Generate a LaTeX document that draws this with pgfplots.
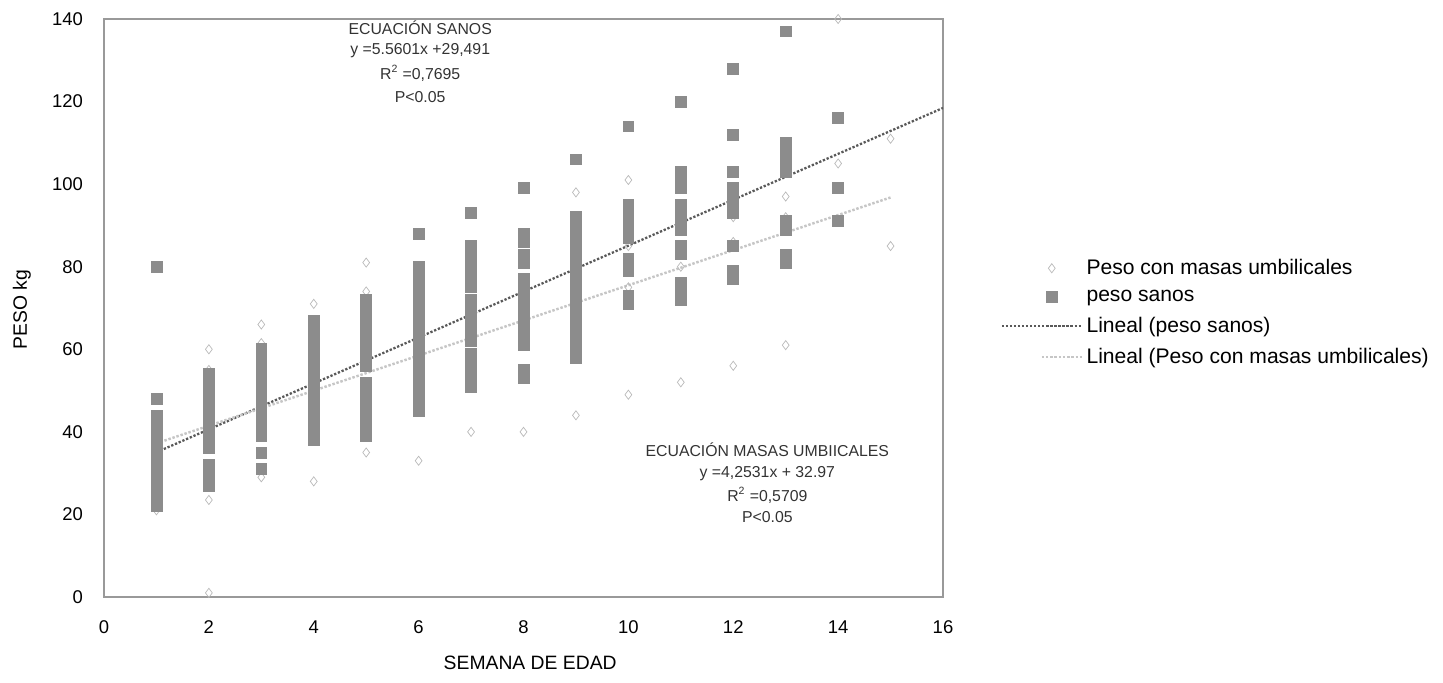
\documentclass[border=0pt]{standalone}
\usepackage{fontspec}
\setmainfont{Liberation Sans}
\usepackage{pgfplots}
\pgfplotsset{compat=1.18}
\pgfplotsset{
  markleg/.style={legend image code/.code={\draw[##1] plot coordinates {(1.0cm,0cm)};}},
  longleg/.style={legend image code/.code={\draw[##1] (0cm,0cm) -- (1.6cm,0cm);}},
  shortleg/.style={legend image code/.code={\draw[##1] (0.8cm,0cm) -- (1.6cm,0cm);}},
}

\begin{document}
\begin{tikzpicture}
\path[use as bounding box] (-20.8mm,-17.2mm) rectangle (267.8mm,119.4mm);
\begin{axis}[
  at={(0,0)}, anchor=south west,
  scale only axis, width=167.8mm, height=115.6mm,
  xmin=0, xmax=16, ymin=0, ymax=140,
  xtick={0,2,...,16}, ytick={0,20,...,140},
  major tick length=0pt,
  axis line style={gray!80, line width=0.6pt},
  /pgf/number format/assume math mode=true,
  tick label style={font=\fontsize{10.5}{12}\selectfont},
  xticklabel style={yshift=-3.5mm},
  yticklabel style={xshift=-3mm},
  xlabel={SEMANA DE EDAD}, ylabel={PESO kg},
  label style={font=\fontsize{11}{13}\selectfont},
  xlabel style={at={(axis description cs:0.508,-0.114)}, anchor=center},
  ylabel style={at={(axis description cs:-0.098,0.497)}, anchor=center},
  legend style={at={(axis description cs:1.062,0.597)}, anchor=north west,
    draw=none, fill=none, font=\fontsize{12}{14}\selectfont, row sep=1.2mm},
  legend cell align=left,
]
% Peso con masas umbilicales
\addplot[only marks, color=gray!55, mark=diamond, mark size=2.6pt, markleg]
  coordinates {
  (1,21)(1,38)(1,36)(1,30)(1,26)
  (2,60)(2,55)(2,23.5)(2,1)(2,45)(2,40)
  (3,66)(3,61.5)(3,29)(3,50)
  (4,71)(4,28)(4,55)(4,60)
  (5,81)(5,74)(5,35)(5,60)
  (6,33)(6,68)(6,75)(6,61)
  (7,40)(7,70)(7,65)
  (8,40)(8,72)(8,65)
  (9,44)(9,98)(9,70)(9,80)(9,60)
  (10,101)(10,49)(10,85)(10,75)
  (11,52)(11,85)(11,95)(11,80)
  (12,56)(12,92)(12,86)
  (13,61)(13,92)(13,97)
  (14,140)(14,105)(14,91)
  (15,111)(15,85)};
% peso sanos
\addplot[only marks, color=black!45, mark=square*, mark size=3.1pt,
  mark options={draw=black!45, fill=black!45}, markleg]
  coordinates {
  (1,80)(1,48)(1,44)(1,42)(1,40)(1,38)(1,36)(1,34)(1,32)(1,30)(1,28)(1,26)(1,24)(1,22)
  (2,54)(2,52)(2,50)(2,48)(2,46)(2,44)(2,42)(2,40)(2,38)(2,36)(2,32)(2,30)(2,28)(2,27)
  (3,60)(3,58)(3,56)(3,54)(3,52)(3,50)(3,48)(3,46)(3,44)(3,42)(3,40)(3,39)(3,35)(3,31)
  (4,67)(4,65)(4,62)(4,60)(4,58)(4,56)(4,54)(4,52)(4,50)(4,47)(4,45)(4,43)(4,40)(4,38)
  (5,72)(5,70)(5,68)(5,66)(5,64)(5,62)(5,60)(5,58)(5,56)(5,52)(5,50)(5,48)(5,45)(5,43)(5,41)(5,39)
  (6,88)(6,80)(6,78)(6,76)(6,74)(6,72)(6,70)(6,68)(6,66)(6,64)(6,62)(6,60)(6,58)(6,56)(6,53)(6,51)(6,49)(6,47)(6,45)
  (7,93)(7,85)(7,83)(7,81)(7,79)(7,77)(7,75)(7,72)(7,70)(7,68)(7,66)(7,64)(7,62)(7,59)(7,57)(7,55)(7,53)(7,51)
  (8,99)(8,88)(8,86)(8,83)(8,81)(8,77)(8,75)(8,73)(8,71)(8,69)(8,67)(8,65)(8,63)(8,61)(8,55)(8,53)
  (9,106)(9,92)(9,90)(9,88)(9,86)(9,84)(9,82)(9,80)(9,78)(9,76)(9,74)(9,72)(9,70)(9,68)(9,66)(9,64)(9,62)(9,60)(9,58)
  (10,114)(10,95)(10,93)(10,91)(10,89)(10,87)(10,82)(10,80)(10,79)(10,73)(10,71)
  (11,120)(11,103)(11,101)(11,99)(11,95)(11,93)(11,91)(11,89)(11,85)(11,83)(11,76)(11,74)(11,72)
  (12,128)(12,112)(12,103)(12,99)(12,97)(12,95)(12,93)(12,85)(12,79)(12,77)
  (13,137)(13,110)(13,107)(13,105)(13,103)(13,91)(13,89)(13,83)(13,81)
  (14,116)(14,99)(14,91)};
% Lineal (peso sanos)
\addplot[black!65, line width=1.3pt, densely dotted, longleg]
  coordinates {(1,35.05) (16,118.45)};
% Lineal (Peso con masas umbilicales)
\addplot[gray!45, line width=1.4pt, densely dotted, shortleg]
  coordinates {(1,37.22) (15,96.77)};
\legend{Peso con masas umbilicales, peso sanos, Lineal (peso sanos), Lineal (Peso con masas umbilicales)}

\begin{scope}[every node/.style={font=\fontsize{9}{11}\selectfont, text=black!80, anchor=center}]
\node at (axis cs:6.03,137.8) {ECUACIÓN SANOS};
\node at (axis cs:6.03,132.3) {y =5.5601x +29,491};
\node at (axis cs:6.03,126.9) {R\textsuperscript{2} =0,7695};
\node at (axis cs:6.03,121.1) {P<0.05};
\node at (axis cs:12.65,35.6) {ECUACIÓN MASAS UMBIICALES};
\node at (axis cs:12.65,30.0) {y =4,2531x + 32.97};
\node at (axis cs:12.65,24.7) {R\textsuperscript{2} =0,5709};
\node at (axis cs:12.65,19.4) {P<0.05};
\end{scope}
\end{axis}
\end{tikzpicture}
\end{document}
